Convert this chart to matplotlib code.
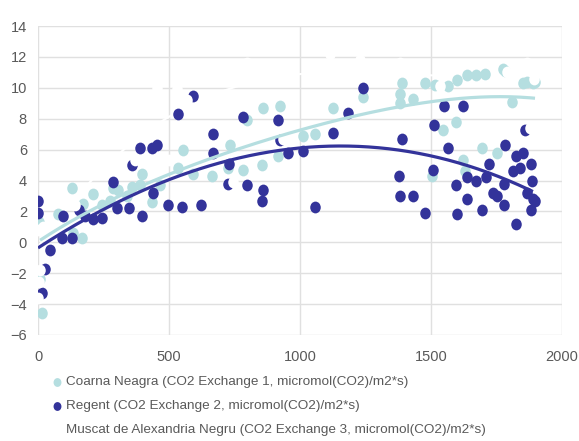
import numpy as np
import matplotlib
matplotlib.use("Agg")
import matplotlib.pyplot as plt
from matplotlib.path import Path
from matplotlib.transforms import Affine2D
from matplotlib import font_manager

# ---- data ----
coarna_x = [8, 15, 3, 76, 130, 134, 168, 172, 210, 244, 275, 287, 305, 340, 358, 389, 396, 435, 466,
            535, 553, 592, 664, 725, 733, 784, 797, 855, 859, 916, 924, 1011, 1057, 1126, 1240,
            1382, 1382, 1389, 1431, 1477, 1504, 1515, 1546, 1563, 1595, 1601, 1622, 1630, 1637,
            1672, 1694, 1708, 1752, 1775, 1783, 1811, 1851, 1866, 1889, 1897]
coarna_y = [-2.4, -4.6, 1.3, 1.8, 3.5, 0.6, 0.3, 2.5, 3.1, 2.4, 2.7, 3.5, 3.4, 3.0, 3.6, 3.7, 4.4, 2.6, 3.7,
            4.8, 6.0, 4.4, 4.3, 4.8, 6.3, 4.7, 7.9, 5.0, 8.7, 5.6, 8.8, 6.9, 7.0, 8.7, 9.4,
            9.6, 9.0, 10.3, 9.3, 10.3, 4.3, 10.2, 7.3, 10.1, 7.8, 10.5, 5.3, 4.6, 10.8,
            10.8, 6.1, 10.9, 5.8, 11.2, 11.1, 9.1, 10.3, 10.4, 10.3, 10.4]

regent_x = [0, 0, 15, 27, 46, 92, 95, 130, 157, 179, 210, 244, 285, 302, 347, 358, 389, 396, 434, 440,
            453, 498, 535, 551, 592, 621, 668, 668, 725, 730, 784, 797, 855, 860, 916, 924, 955,
            1011, 1057, 1126, 1185, 1240, 1378, 1380, 1389, 1431, 1477, 1508, 1513, 1548, 1565,
            1595, 1599, 1622, 1637, 1637, 1672, 1694, 1710, 1721, 1737, 1752, 1779, 1779, 1783,
            1813, 1824, 1824, 1840, 1851, 1859, 1866, 1882, 1886, 1882, 1889, 1897]
regent_y = [2.7, 1.9, -3.3, -1.7, -0.5, 0.3, 1.7, 0.3, 2.1, 1.7, 1.5, 1.6, 3.9, 2.2, 2.2, 5.0, 6.1, 1.7, 6.1, 3.2,
            6.3, 2.4, 8.3, 2.3, 9.5, 2.4, 7.0, 5.8, 3.8, 5.1, 8.1, 3.7, 2.7, 3.4, 7.9, 6.6, 5.8,
            5.9, 2.3, 7.1, 8.4, 10.0, 4.3, 3.0, 6.7, 3.0, 1.9, 4.7, 7.6, 8.8, 6.1,
            3.7, 1.8, 8.8, 4.2, 2.8, 4.0, 2.1, 4.2, 5.1, 3.2, 3.0, 3.8, 2.4, 6.3,
            4.6, 5.6, 1.2, 4.8, 5.8, 7.3, 3.2, 5.1, 4.0, 2.1, 2.8, 2.7]

muscat_x = [0, 8, 0, 5, 20, 60, 84, 140, 187, 275, 372, 389, 453, 500, 530, 568, 618, 745, 744, 797,
            935, 1050, 1115, 1229, 1382, 1534, 1599, 1687, 1725, 1790, 1789, 1866, 1878, 1893]
muscat_y = [0.8, -1.8, -3.6, -2.6, 1.0, 2.8, 4.6, 2.4, 5.5, 6.6, 5.3, 7.2, 10.0, 5.3, 9.9, 9.2, 10.7, 3.9, 11.3, 11.6,
            6.7, 11.3, 12.2, 11.8, 11.6, 10.1, 12.9, 12.9, 6.8, 12.9, 11.0, 11.6, 7.4, 10.6]

# trendline values (Excel polynomial trendlines)
coarna_trend_x = [8, 97, 224, 351, 504, 656, 733, 924, 1000, 1115, 1305, 1496, 1687, 1897]
coarna_trend_y = [0.1, 1.1, 2.25, 3.35, 4.5, 5.4, 5.7, 6.9, 7.2, 7.88, 8.65, 9.05, 9.3, 9.37]
regent_trend_x = [0, 97, 224, 351, 504, 656, 733, 1000, 1115, 1305, 1496, 1687, 1889]
regent_trend_y = [-0.3, 0.76, 1.7, 2.9, 4.0, 5.1, 5.4, 6.15, 6.2, 6.15, 5.5, 4.65, 3.35]

series_names = ["Coarna Neagra (CO2 Exchange 1, micromol(CO2)/m2*s)",
                "Regent (CO2 Exchange 2, micromol(CO2)/m2*s)",
                "Muscat de Alexandria Negru (CO2 Exchange 3, micromol(CO2)/m2*s)"]
x_ticks = [0, 500, 1000, 1500, 2000]
y_ticks = [-6, -4, -2, 0, 2, 4, 6, 8, 10, 12, 14]

# ---- styling ----
LIGHT = "#B5DEE0"
DARK = "#33339A"
WHITE = "#FFFFFF"
GRID = "#E0E0E0"
TXT = "#595959"

names = {f.name for f in font_manager.fontManager.ttflist}
narrow = 'Liberation Sans Narrow' in names
FAM = ['Liberation Sans Narrow', 'Liberation Sans', 'DejaVu Sans'] if narrow else ['Liberation Sans', 'DejaVu Sans']
plt.rcParams['font.family'] = FAM
tick_fs = 12.5 if narrow else 10.5
leg_fs = 11.8 if narrow else 9.7

oval = Path.unit_circle().transformed(Affine2D().scale(1.0, 1.12))

fig = plt.figure(figsize=(5.79, 4.41), dpi=100)
ax = fig.add_axes([38 / 579, 1 - 335 / 441, (562 - 38) / 579, (335 - 26) / 441])

ax.set_xlim(0, 2000)
ax.set_ylim(-6, 14)
ax.set_xticks(x_ticks)
ax.set_yticks(y_ticks)
ax.grid(True, color=GRID, linewidth=1.0, zorder=0)
ax.set_axisbelow(True)
for s in ax.spines.values():
    s.set_visible(False)
ax.tick_params(length=0, labelsize=tick_fs, labelcolor=TXT)
ax.tick_params(axis='x', pad=11)
ax.tick_params(axis='y', pad=8)

ms = 72
ax.scatter(coarna_x, coarna_y, s=ms, marker=oval, color=LIGHT, linewidths=0, zorder=3, label=series_names[0])
ax.scatter(regent_x, regent_y, s=ms, marker=oval, color=DARK, linewidths=0, zorder=4, label=series_names[1])
ax.scatter(muscat_x, muscat_y, s=ms, marker=oval, color=WHITE, linewidths=0, zorder=5, label=series_names[2])

def poly_line(xs, ys, deg, color, z, lw=2.3):
    xs = np.asarray(xs, float); ys = np.asarray(ys, float)
    c = np.polyfit(xs, ys, deg)
    xx = np.linspace(xs.min(), xs.max(), 200)
    ax.plot(xx, np.polyval(c, xx), color=color, linewidth=lw, zorder=z, solid_capstyle='butt')

poly_line(muscat_x, muscat_y, 3, WHITE, 1, lw=1.5)
poly_line(coarna_trend_x, coarna_trend_y, 4, LIGHT, 6)
poly_line(regent_trend_x, regent_trend_y, 3, DARK, 7)

leg = fig.legend(loc='upper left', bbox_to_anchor=(49 / 579, 1 - 376 / 441), frameon=False,
                 fontsize=leg_fs, labelcolor=TXT, handletextpad=0.05, handlelength=1.2,
                 labelspacing=0.86, borderaxespad=0, borderpad=0, markerscale=0.75)

fig.savefig("out.png", dpi=100)
